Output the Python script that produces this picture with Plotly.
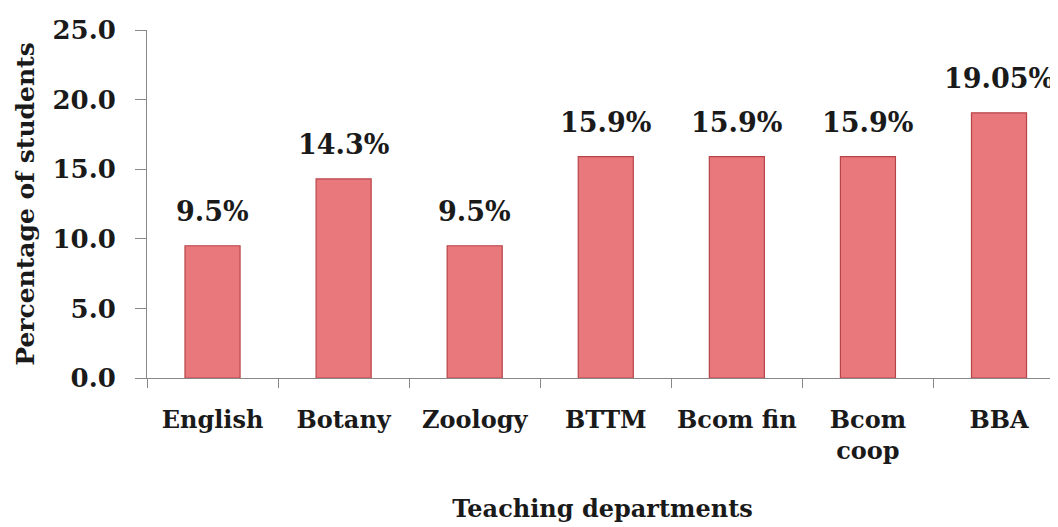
import plotly.graph_objects as go

categories = ["English", "Botany", "Zoology", "BTTM", "Bcom fin", "Bcom<br>coop", "BBA"]
values = [9.5, 14.3, 9.5, 15.9, 15.9, 15.9, 19.05]
labels = ["9.5%", "14.3%", "9.5%", "15.9%", "15.9%", "15.9%", "19.05%"]

FONT = "DejaVu Serif"

fig = go.Figure()
fig.add_trace(go.Bar(
    x=categories, y=values, width=0.42,
    marker=dict(color="#E8787C", line=dict(color="#B84448", width=1.2)),
    hoverinfo="skip",
))

for c, v, t in zip(categories, values, labels):
    fig.add_annotation(x=c, y=v, text=t, showarrow=False, yanchor="bottom",
                       yshift=17, font=dict(family=FONT, size=27, color="#1a1a1a", weight="bold"))

axis_font = dict(family=FONT, size=24, color="#1a1a1a", weight="bold")
title_font = dict(family=FONT, size=24, color="#1a1a1a", weight="bold")
fig.update_layout(
    width=1050, height=519,
    margin=dict(l=139, r=0, t=22, b=149),
    paper_bgcolor="white", plot_bgcolor="white",
    showlegend=False,
    xaxis=dict(
        type="category", range=[-0.5, 6.45],
        showline=True, linecolor="#888888", linewidth=1,
        ticks="outside", tickson="boundaries", ticklen=9, tickcolor="#888888",
        tickfont=axis_font, ticklabelstandoff=20, tickangle=0,
        title=dict(text="Teaching departments", font=title_font, standoff=36),
        showgrid=False, zeroline=False, automargin=False,
    ),
    yaxis=dict(
        range=[0, 25], dtick=5, tickformat=".1f",
        showline=True, linecolor="#888888", linewidth=1,
        ticks="outside", ticklen=11, tickcolor="#888888",
        tickfont=dict(family=FONT, size=26, color="#1a1a1a", weight="bold"), ticklabelstandoff=14,
        title=dict(text="Percentage of students", font=dict(family=FONT, size=25, color="#1a1a1a", weight="bold"), standoff=10),
        showgrid=False, zeroline=False, automargin=False,
    ),
)

fig.write_html("out.html")
